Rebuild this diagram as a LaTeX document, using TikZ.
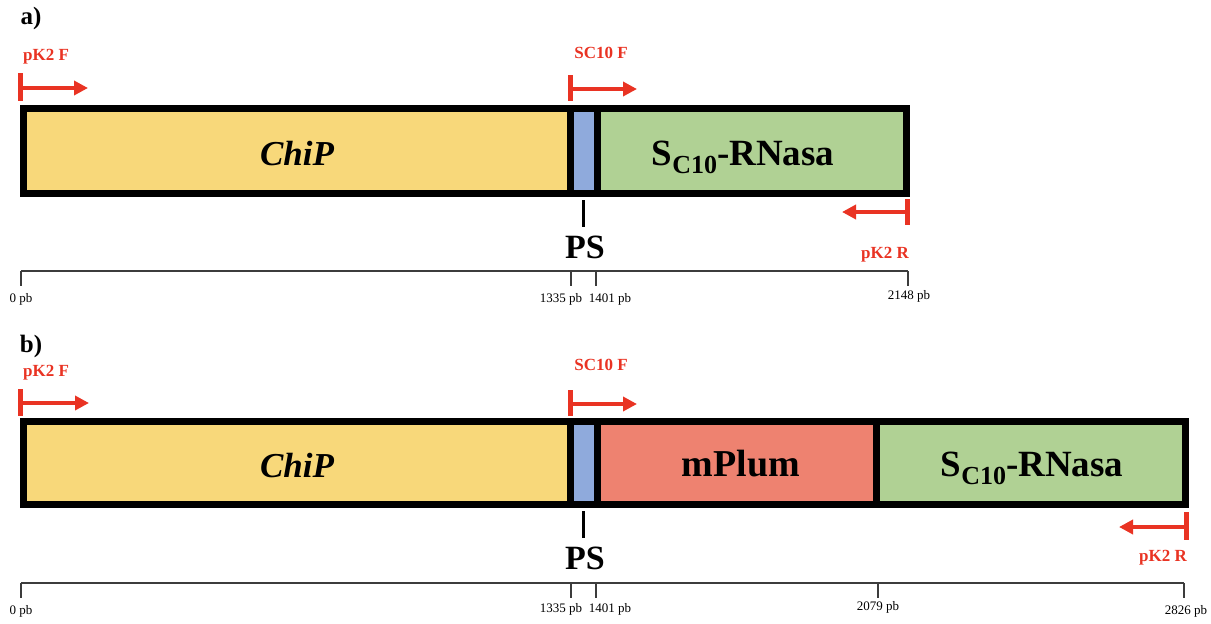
\documentclass[tikz,border=0pt]{standalone}
\usepackage{fontspec}
\setmainfont{Liberation Serif}
\usetikzlibrary{arrows.meta}

\definecolor{chipcol}{RGB}{248,216,122}
\definecolor{pscol}{RGB}{143,170,220}
\definecolor{rnacol}{RGB}{176,209,148}
\definecolor{plumcol}{RGB}{238,130,112}
\definecolor{primercol}{RGB}{233,51,35}
\definecolor{rulercol}{RGB}{60,60,60}

\tikzset{
  seg/.style={draw=black, line width=7pt, inner sep=0pt, outer sep=0pt, anchor=west},
  gene/.style={font=\fontsize{38}{38}\selectfont\bfseries, inner sep=0pt, anchor=base},
  chiptext/.style={gene, font=\fontsize{35}{35}\selectfont\bfseries\itshape},
  primerbar/.style={draw=primercol, line width=4.5pt},
  primerarrow/.style={draw=primercol, line width=4pt, -{Triangle[length=14pt,width=14pt]}},
  primerlabel/.style={text=primercol, font=\fontsize{17}{17}\selectfont\bfseries, inner sep=0pt},
  rulerline/.style={draw=rulercol, line width=1.3pt},
  ticklabel/.style={font=\fontsize{13}{13}\selectfont, text=black, inner sep=0pt},
  panellabel/.style={font=\fontsize{25}{25}\selectfont\bfseries, inner sep=0pt},
  pstick/.style={draw=black, line width=3.5pt},
  pslabel/.style={font=\fontsize{34}{34}\selectfont\bfseries, inner sep=0pt, anchor=base},
}
\newcommand{\scten}{\fontsize{37}{37}\selectfont S\raisebox{-8pt}{\fontsize{26}{26}\selectfont C10}-RNasa}

\begin{document}
\begin{tikzpicture}[x=1pt,y=-1pt]
\useasboundingbox (0,0) rectangle (1211,624);

% ---------------- panel a ----------------
\node[panellabel] (labA) at (31,18) {a)};

% construct
\node[seg, fill=chipcol, minimum width=547pt, minimum height=85pt] (chipA) at (23.5,151) {};
\node[seg, fill=pscol, minimum width=26.5pt, minimum height=85pt] (psA) at (chipA.east) {};
\node[seg, fill=rnacol, minimum width=309.5pt, minimum height=85pt] (rnaA) at (psA.east) {};
\node[chiptext] (chipTxtA) at (297,165) {ChiP};
\node[gene] (rnaTxtA) at (743,165) {\scten};

% PS marker
\coordinate (psTopA) at (583.5,200);
\coordinate (psBotA) at (583.5,227);
\draw[pstick] (psTopA) -- (psBotA);
\node[pslabel] (psLabA) at (585,258) {PS};

% primers
\node[primerlabel] (pkfLabA) at (46,57) {pK2 F};
\coordinate (pkfTopA) at (20.5,73);
\coordinate (pkfBotA) at (20.5,101);
\coordinate (pkfMidA) at (20.5,88);
\coordinate (pkfTipA) at (88,88);
\draw[primerbar] (pkfTopA) -- (pkfBotA);
\draw[primerarrow] (pkfMidA) -- (pkfTipA);

\node[primerlabel] (scfLabA) at (601,53) {SC10 F};
\coordinate (scfTopA) at (570.5,75);
\coordinate (scfBotA) at (570.5,101);
\coordinate (scfMidA) at (570.5,89);
\coordinate (scfTipA) at (637,89);
\draw[primerbar] (scfTopA) -- (scfBotA);
\draw[primerarrow] (scfMidA) -- (scfTipA);

\node[primerlabel] (pkrLabA) at (885,255) {pK2 R};
\coordinate (pkrTopA) at (907.5,199);
\coordinate (pkrBotA) at (907.5,225);
\coordinate (pkrMidA) at (907.5,212);
\coordinate (pkrTipA) at (842,212);
\draw[primerbar] (pkrTopA) -- (pkrBotA);
\draw[primerarrow] (pkrMidA) -- (pkrTipA);

% ruler
\coordinate (r0A) at (21,271);
\coordinate (r1A) at (571,271);
\coordinate (r2A) at (596,271);
\coordinate (r3A) at (908,271);
\draw[rulerline] (r0A) -- (r3A);
\foreach \p in {r0A,r1A,r2A,r3A} \draw[rulerline] (\p) -- ++(0,15);
\node[ticklabel] (t0A) at (21,299) {0 pb};
\node[ticklabel] (t1A) at (561,299) {1335 pb};
\node[ticklabel] (t2A) at (610,299) {1401 pb};
\node[ticklabel] (t3A) at (909,296) {2148 pb};

% ---------------- panel b ----------------
\node[panellabel] (labB) at (31,346) {b)};

% construct
\node[seg, fill=chipcol, minimum width=547pt, minimum height=83pt] (chipB) at (23.5,463) {};
\node[seg, fill=pscol, minimum width=26.5pt, minimum height=83pt] (psB) at (chipB.east) {};
\node[seg, fill=plumcol, minimum width=279.5pt, minimum height=83pt] (plumB) at (psB.east) {};
\node[seg, fill=rnacol, minimum width=309pt, minimum height=83pt] (rnaB) at (plumB.east) {};
\node[chiptext] (chipTxtB) at (297,477) {ChiP};
\node[gene] (plumTxtB) at (741,476) {mPlum};
\node[gene] (rnaTxtB) at (1032,476) {\scten};

% PS marker
\coordinate (psTopB) at (583.5,511);
\coordinate (psBotB) at (583.5,538);
\draw[pstick] (psTopB) -- (psBotB);
\node[pslabel] (psLabB) at (585,569) {PS};

% primers
\node[primerlabel] (pkfLabB) at (46,373) {pK2 F};
\coordinate (pkfTopB) at (20.5,389);
\coordinate (pkfBotB) at (20.5,416);
\coordinate (pkfMidB) at (20.5,403);
\coordinate (pkfTipB) at (89,403);
\draw[primerbar] (pkfTopB) -- (pkfBotB);
\draw[primerarrow] (pkfMidB) -- (pkfTipB);

\node[primerlabel] (scfLabB) at (601,365) {SC10 F};
\coordinate (scfTopB) at (570.5,390);
\coordinate (scfBotB) at (570.5,416);
\coordinate (scfMidB) at (570.5,404);
\coordinate (scfTipB) at (637,404);
\draw[primerbar] (scfTopB) -- (scfBotB);
\draw[primerarrow] (scfMidB) -- (scfTipB);

\node[primerlabel] (pkrLabB) at (1163,558) {pK2 R};
\coordinate (pkrTopB) at (1186.5,512);
\coordinate (pkrBotB) at (1186.5,540);
\coordinate (pkrMidB) at (1186.5,527);
\coordinate (pkrTipB) at (1119,527);
\draw[primerbar] (pkrTopB) -- (pkrBotB);
\draw[primerarrow] (pkrMidB) -- (pkrTipB);

% ruler
\coordinate (r0B) at (21,583);
\coordinate (r1B) at (571,583);
\coordinate (r2B) at (596,583);
\coordinate (r3B) at (878,583);
\coordinate (r4B) at (1184,583);
\draw[rulerline] (r0B) -- (r4B);
\foreach \p in {r0B,r1B,r2B,r3B,r4B} \draw[rulerline] (\p) -- ++(0,15);
\node[ticklabel] (t0B) at (21,611) {0 pb};
\node[ticklabel] (t1B) at (561,609) {1335 pb};
\node[ticklabel] (t2B) at (610,609) {1401 pb};
\node[ticklabel] (t3B) at (878,607) {2079 pb};
\node[ticklabel] (t4B) at (1186,611) {2826 pb};
\end{tikzpicture}
\end{document}
